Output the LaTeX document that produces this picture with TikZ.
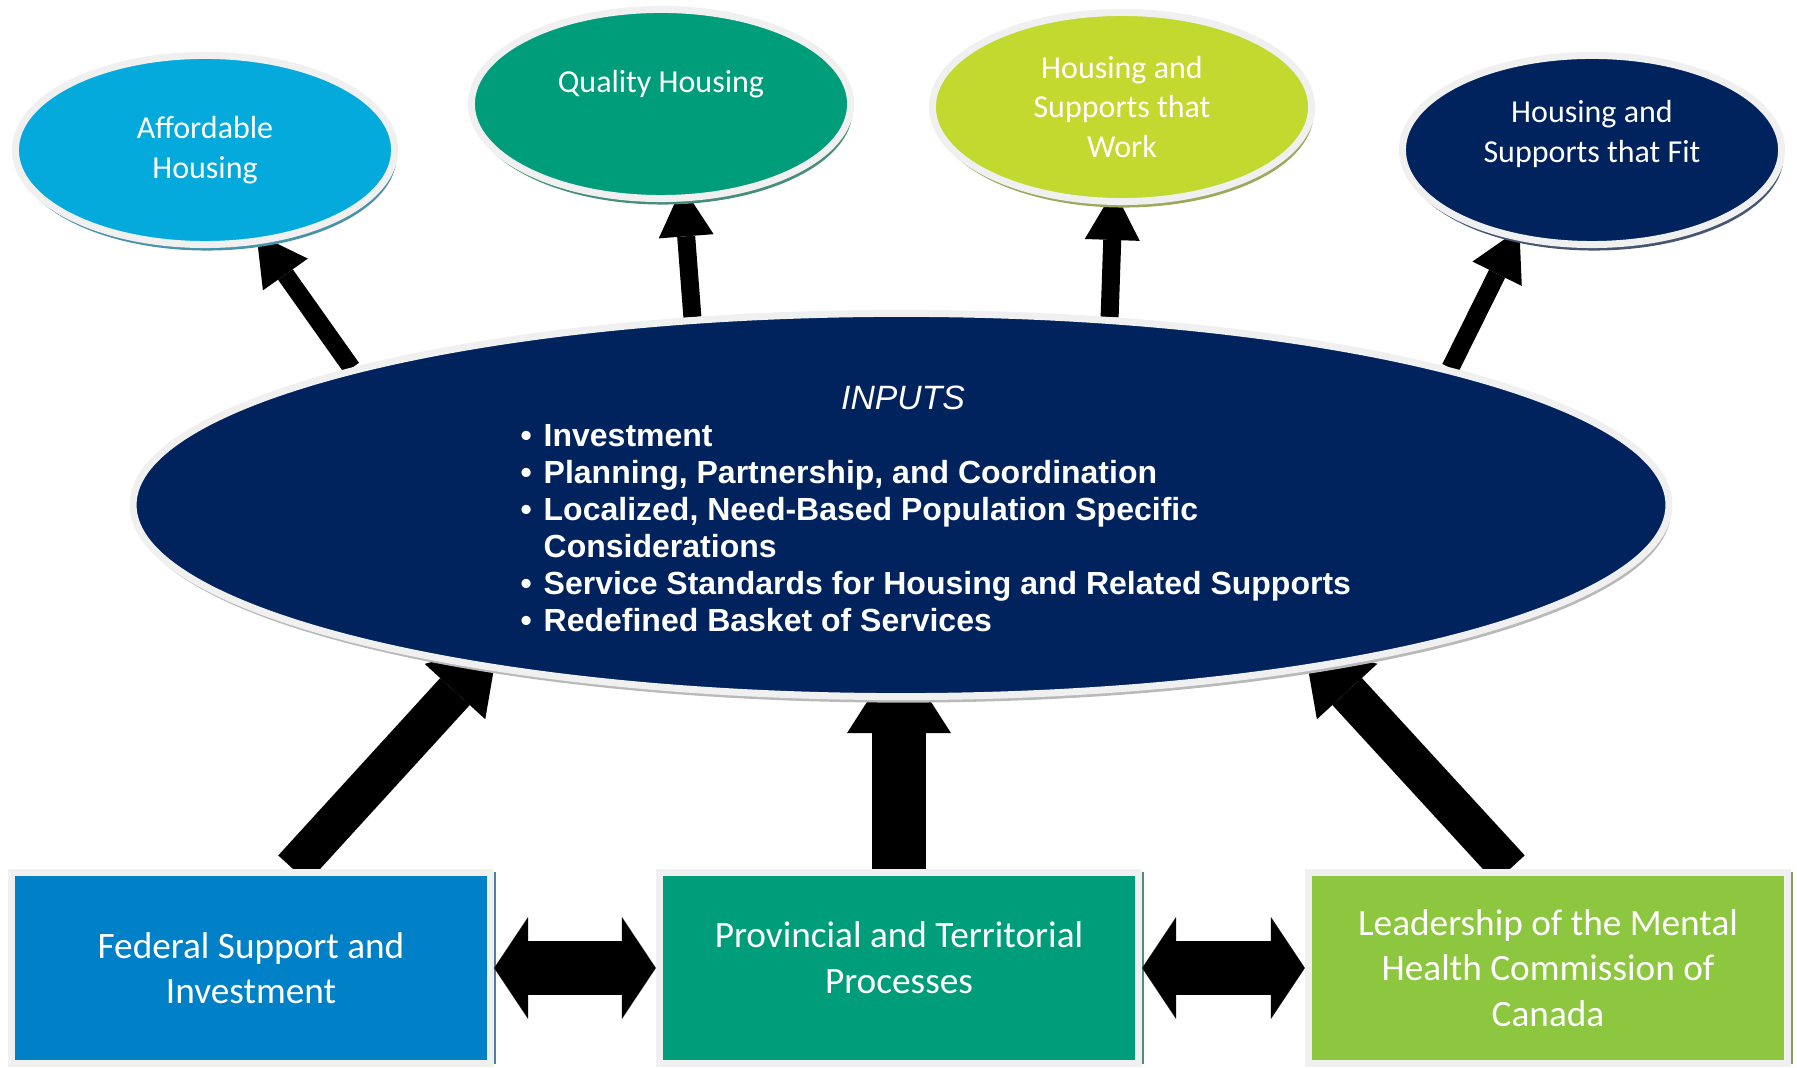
\documentclass[tikz,border=0pt]{standalone}
\usepackage{fontspec}
\setmainfont{Carlito}
\newfontfamily\arialfont{Liberation Sans}
\usepackage{tikz}
\usetikzlibrary{shapes.geometric,arrows.meta,shadows}
\definecolor{affblue}{HTML}{04AADC}
\definecolor{qualgreen}{HTML}{009D7A}
\definecolor{workgreen}{HTML}{C2D92F}
\definecolor{navy}{HTML}{00235E}
\definecolor{fedblue}{HTML}{0080C6}
\definecolor{mhcgreen}{HTML}{8DC63F}
\definecolor{rimgray}{HTML}{F0F0F0}
\newcommand{\bul}{\makebox[0.18cm][l]{\hspace{-0.05cm}\textbullet}}
\pgfdeclarelayer{background}
\pgfsetlayers{background,main}

\begin{document}
\begin{tikzpicture}[x=0.01cm, y=-0.01cm,
  outcome/.style={ellipse, draw=rimgray, line width=0.07cm, fill=#1,
    minimum width=3.79cm, minimum height=1.89cm, inner sep=0pt,
    text=white, align=center, font=\fontsize{9.1}{11.3}\selectfont,
    drop shadow={shadow xshift=0.02cm, shadow yshift=-0.06cm, opacity=1, fill=#1!45!gray}},
  hub/.style={ellipse, draw=rimgray, line width=0.07cm, fill=navy,
    minimum width=15.35cm, minimum height=3.83cm,
    drop shadow={shadow xshift=0.02cm, shadow yshift=-0.06cm, opacity=1, fill=gray!55}},
  source/.style={rectangle, draw=rimgray, line width=0.07cm, fill=#1,
    minimum width=4.79cm, minimum height=1.91cm,
    text=white, align=center, font=\fontsize{10.6}{12.9}\selectfont,
    drop shadow={shadow xshift=0.05cm, shadow yshift=0cm, opacity=1, fill=#1!40!gray}},
  outflow/.style={line width=0.18cm, -{Triangle[width=0.55cm, length=0.5cm, line width=0pt]}},
  inflow/.style={line width=0.4cm, -{Triangle[width=0.82cm, length=0.64cm, line width=0pt]}},
  mainflow/.style={line width=0.53cm, -{Triangle[width=1.04cm, length=0.81cm, line width=0pt]}},
  twoway/.style={line width=0.53cm,
    {Triangle[width=1.02cm, length=0.34cm, line width=0pt]}-{Triangle[width=1.02cm, length=0.34cm, line width=0pt]}}]

  \useasboundingbox (0,0) rectangle (1797,1068);

  \node[outcome=affblue]   (afford)  at (205,150)  {Affordable\\Housing};
  \node[outcome=qualgreen] (quality) at (661,104)  {Quality Housing\\[-2pt]\strut};
  \node[outcome=workgreen] (work)    at (1122,107) {Housing and\\Supports that\\Work};
  \node[outcome=navy]      (fit)     at (1592,150) {Housing and\\Supports that Fit\\[-4pt]\strut};

  \node[hub] (inputs) at (901,505) {};
  \node[text=white, font=\arialfont\itshape\fontsize{9.6}{11}\selectfont] (title) at (903,398) {INPUTS};
  \node[anchor=north west, inner sep=0pt, align=left, text=white,
        font=\arialfont\bfseries\fontsize{9.1}{10.5}\selectfont] (items) at (525,424)
    {\bul Investment\\
     \bul Planning, Partnership, and Coordination\\
     \bul Localized, Need-Based Population Specific\\
     \hspace*{0.18cm}Considerations\\
     \bul Service Standards for Housing and Related Supports\\
     \bul Redefined Basket of Services};

  \node[source=fedblue]   (fed)  at (251,968)  {Federal Support and\\Investment};
  \node[source=qualgreen] (prov) at (899,968)  {Provincial and Territorial\\Processes\\[-7pt]\mbox{}};
  \node[source=mhcgreen]  (mhcc) at (1548,968) {Leadership of the Mental\\Health Commission of\\Canada};

  \begin{pgfonlayer}{background}
    \draw[outflow, shorten >=-0.12cm] (inputs.166.8) -- (afford.302);
    \draw[outflow, shorten >=-0.15cm] (inputs.138.1) -- (quality.283);
    \draw[outflow, shorten >=-0.15cm] (inputs.42.5) -- (work.265);
    \draw[outflow, shorten >=-0.12cm] (inputs.14) -- (fit.229.3);
    \draw[inflow, shorten >=-0.32cm] ([xshift=0.42cm]fed.north) -- (inputs.201.3);
    \draw[mainflow, shorten >=-0.48cm] (prov.north) -- (inputs.south -| prov.north);
    \draw[inflow, shorten >=-0.32cm] ([xshift=-0.38cm]mhcc.north) -- (inputs.339.3);
  \end{pgfonlayer}

  \draw[twoway] (fed.east) -- (prov.west);
  \draw[twoway] (prov.east) -- (mhcc.west);
\end{tikzpicture}
\end{document}
